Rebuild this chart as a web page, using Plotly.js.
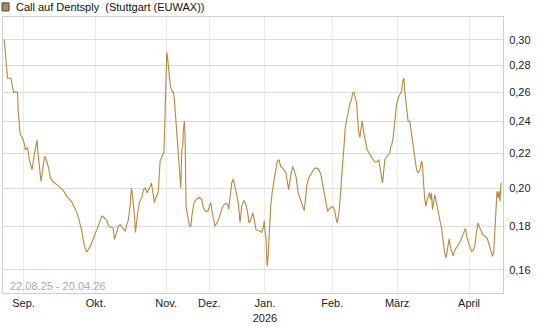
<!DOCTYPE html>
<html>
<head>
<meta charset="utf-8">
<script src="https://cdn.plot.ly/plotly-3.0.1.min.js"></script>
<style>
html,body{margin:0;padding:0;background:#fff;}
#chart{width:545px;height:327px;}
</style>
</head>
<body>
<div id="chart"></div>
<script>
// position along the trading timeline (session scale) and price of the warrant
const pos = [0,0.5,1.7,2.3,3.3,6.7,7.7,8.7,9.3,13.3,14,15.3,16,17.7,19,20,21,22.7,23.3,25,26.7,27.7,28.7,29.3,30.3,31.3,32,32.7,33.7,35.3,36.7,38,39.3,40.3,41.7,43,44.3,46,49,52.7,56,59.3,62.7,66,67.7,69.3,71,72.7,74.3,76,77.7,79.3,81,82.7,84.3,86,87.7,89.3,91,92.7,94.3,96,97.7,99.3,101,102.7,104.3,106,107.7,109,110.3,112.7,114.3,116,117.7,119.3,121,122.7,124.3,126,127.3,128.3,129.3,130.3,131.3,132.3,133.7,135.3,138,139.3,141,143,144.7,146,147.3,149,150.3,151.7,153,154,154.7,155.3,156,159.3,159.7,160.3,161.3,162,162.7,163.3,164.3,165.3,166.3,168.3,169.3,170.3,171.3,172.3,173.3,174.3,175.3,176.7,177.7,178.7,179.3,180.3,181,181.3,182,185.3,186.7,188,190,192.7,195.3,197.7,199.3,201.7,203.7,205.3,206.7,208.3,211,214.3,217,218.7,222,223.7,224.7,226,227.7,229.3,231,232.7,234.3,236,237.7,240,242,243.7,245,246.7,248.7,250,252,256,257.7,259.3,260.3,261,262,262.7,263.3,264.3,265.3,266.7,268.3,270,272,273.3,275,276.7,279.3,282,283.3,284.7,286.7,288.7,290,292,294.3,296,297.7,299.3,300.3,301.7,302.7,304.7,307.7,310.3,312.7,315,317,318.7,320.3,322,323.7,325.3,327.7,329.3,330.7,331.7,333.3,335,336,337,338,338.7,340,341.3,342.7,344.3,346,347.7,348.7,350,351,352.7,354,354.7,356,357.3,358.3,360,361.3,363.3,365.3,367,371,372.7,374.3,375,376,376.7,377.7,378.7,380,381,382.7,386,387,388,389.3,391,392.7,395,397.7,398.7,400,401,403.3,404.3,406,407.7,409.3,411,412.7,414.3,416,417,418,418.7,419.7,420.7,422,423.3,424.7,425.7,426.7,427.7,428.7,430,431,432.7,434.3,436,437.7,438.7,439.7,441,442.3,443.7,445.3,447,449.3,451.3,454.3,456.7,458.3,460,461.7,463.3,466,467.7,469.3,471,472.7,474.3,476.7,479.3,481.7,483.3,485,487.7,488.7,490,491.3,492.3,493.3,494.3,495.3,496.3,497,497.7];
const price = [0.300,0.295,0.286,0.275,0.270,0.270,0.265,0.262,0.260,0.260,0.246,0.237,0.2315,0.230,0.228,0.226,0.222,0.2234,0.2234,0.216,0.2121,0.2103,0.2138,0.2173,0.2200,0.2232,0.2264,0.228,0.2206,0.2114,0.2037,0.2086,0.2132,0.2181,0.2168,0.2138,0.2114,0.2058,0.2033,0.2019,0.2002,0.1986,0.1953,0.1933,0.1925,0.1906,0.1891,0.1870,0.1845,0.1810,0.1776,0.1727,0.1695,0.1679,0.1690,0.1705,0.1722,0.1746,0.1766,0.1785,0.1805,0.1834,0.1853,0.1848,0.1839,0.1829,0.1805,0.1797,0.1797,0.1792,0.1737,0.1774,0.1802,0.1810,0.1797,0.1785,0.1776,0.1810,0.1834,0.1911,0.2000,0.1964,0.1911,0.1851,0.1771,0.1834,0.1876,0.1922,0.1955,0.1991,0.2000,0.1974,0.1991,0.2009,0.2028,0.1974,0.1922,0.1949,0.1964,0.1974,0.2028,0.2086,0.2155,0.2200,0.2200,0.2302,0.2526,0.2780,0.2899,0.2867,0.2790,0.2715,0.2641,0.2600,0.2600,0.2547,0.2445,0.2400,0.2252,0.2152,0.2086,0.2000,0.2221,0.2242,0.2346,0.2400,0.2296,0.2086,0.1902,0.1805,0.1800,0.1860,0.1922,0.1941,0.1950,0.1938,0.1894,0.1876,0.1876,0.1902,0.1922,0.1868,0.1802,0.1831,0.1868,0.1902,0.1920,0.1911,0.1889,0.1955,0.2028,0.2050,0.2009,0.1955,0.1922,0.1821,0.1902,0.1933,0.1911,0.1868,0.1818,0.1834,0.1868,0.1844,0.1785,0.1777,0.1772,0.1795,0.1829,0.1776,0.1746,0.1659,0.1615,0.1675,0.1785,0.1902,0.1982,0.2037,0.2103,0.2152,0.2162,0.2122,0.2109,0.2084,0.2037,0.1991,0.2065,0.2122,0.2103,0.2065,0.1973,0.1947,0.1929,0.1902,0.1880,0.1947,0.2009,0.2056,0.2084,0.2109,0.2113,0.2103,0.2075,0.2019,0.1973,0.1929,0.1876,0.1889,0.1899,0.1899,0.1885,0.1851,0.1818,0.1868,0.1920,0.1991,0.2084,0.2162,0.2232,0.2357,0.2411,0.2467,0.2517,0.2547,0.2594,0.2600,0.2570,0.2524,0.2400,0.2335,0.2297,0.2368,0.2404,0.2325,0.2273,0.2221,0.2201,0.2181,0.2148,0.2148,0.2155,0.2162,0.2122,0.2093,0.2056,0.2028,0.2103,0.2162,0.2179,0.2201,0.2242,0.2252,0.2296,0.2398,0.2512,0.2570,0.2605,0.2666,0.2703,0.2605,0.2467,0.2400,0.2400,0.2315,0.2232,0.2172,0.2103,0.2084,0.2099,0.2132,0.2152,0.2122,0.2028,0.1955,0.1902,0.1938,0.1955,0.1976,0.1938,0.1973,0.1885,0.1920,0.1964,0.1920,0.1868,0.1834,0.1795,0.1752,0.1705,0.1675,0.1652,0.1697,0.1740,0.1697,0.1662,0.1690,0.1713,0.1729,0.1750,0.1769,0.1791,0.1745,0.1705,0.1682,0.1685,0.1705,0.1769,0.1818,0.1785,0.1761,0.1752,0.1745,0.1721,0.1667,0.1659,0.1677,0.1769,0.1885,0.1982,0.1947,0.1982,0.1929,0.2009,0.2028,0.2103,0.2122];
const monthPos = [19.3, 91.7, 162, 205.3, 261, 328.3, 393.3, 465.3];
const monthLabels = ['Sep.', 'Okt.', 'Nov.', 'Dez.', 'Jan.<br>2026', 'Feb.', 'März', 'April'];
const yTicks = [0.16, 0.18, 0.20, 0.22, 0.24, 0.26, 0.28, 0.30];
const seriesName = 'Call auf Dentsply  (Stuttgart (EUWAX))';
const periodText = '22.08.25 - 20.04.26';

const lineColor = '#b5883e';
const font = {family: 'Liberation Sans, Arial, sans-serif', size: 11, color: '#222'};

const trace = {
  x: pos, y: price, type: 'scatter', mode: 'lines',
  line: {color: lineColor, width: 1.1},
  hoverinfo: 'skip', showlegend: false
};

const layout = {
  width: 545, height: 327,
  margin: {l: 3, r: 42, t: 17, b: 34, pad: 0},
  paper_bgcolor: '#fff', plot_bgcolor: '#fff',
  font: font,
  separators: ',.',
  showlegend: false,
  xaxis: {
    range: [-1.3, 499.3], fixedrange: true,
    tickmode: 'array', tickvals: monthPos, ticktext: monthLabels,
    showgrid: true, gridcolor: '#ebebeb', gridwidth: 1,
    zeroline: false, showline: true, linecolor: '#cfcfcf', linewidth: 1, mirror: true,
    ticks: '', tickfont: {family: font.family, size: 11, color: '#222'}
  },
  yaxis: {
    type: 'log', side: 'right',
    range: [Math.log10(0.1501), Math.log10(0.3193)], fixedrange: true,
    tickmode: 'array', tickvals: yTicks, tickformat: '.2f',
    showgrid: true, gridcolor: '#dcdcdc', gridwidth: 1,
    zeroline: false, showline: true, linecolor: '#cfcfcf', linewidth: 1, mirror: true,
    ticks: '', ticklabelstandoff: 3,
    tickfont: {family: font.family, size: 11, color: '#222'}
  },
  shapes: [{
    type: 'rect', xref: 'paper', yref: 'paper',
    x0: -0.002, x1: 0.012, y0: 1.022, y1: 1.051,
    fillcolor: '#b08a52', line: {color: '#444', width: 1}
  }],
  annotations: [
    {text: seriesName, xref: 'paper', yref: 'paper', x: 0.021, y: 1.037,
     xanchor: 'left', yanchor: 'middle', showarrow: false,
     font: {family: font.family, size: 11, color: '#111'}},
    {text: periodText, xref: 'paper', yref: 'paper', x: 0.009, y: 0.025,
     xanchor: 'left', yanchor: 'middle', showarrow: false,
     font: {family: font.family, size: 11, color: '#a3aabb'}}
  ]
};

Plotly.newPlot('chart', [trace], layout, {displayModeBar: false, staticPlot: true});
</script>
</body>
</html>
